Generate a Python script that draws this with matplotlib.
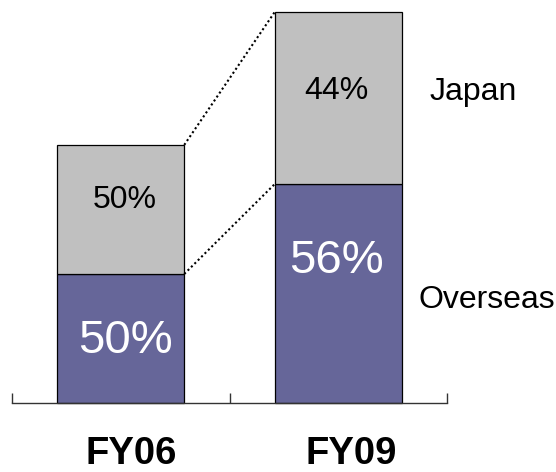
import matplotlib
matplotlib.use("Agg")
import matplotlib.pyplot as plt
import numpy as np

plt.rcParams['font.family'] = ['Liberation Sans', 'DejaVu Sans']

# sales split by region (total as index, FY06 = 100)
years = ["FY06", "FY09"]
totals = np.array([100.0, 151.5])
overseas_share = np.array([0.50, 0.56])
japan_share = np.array([0.50, 0.44])
overseas_labels = ["50%", "56%"]
japan_labels = ["50%", "44%"]

overseas = totals * overseas_share
japan = totals * japan_share

c_overseas = "#666699"
c_japan = "#C0C0C0"

fig = plt.figure(figsize=(5.56, 4.72), dpi=100)
ax = fig.add_axes([12 / 556, 69 / 472, 435 / 556, 391 / 472])

x = np.arange(len(years))
w = 0.584
ax.bar(x, overseas, w, color=c_overseas, edgecolor="black", linewidth=0.9, clip_on=False)
ax.bar(x, japan, w, bottom=overseas, color=c_japan, edgecolor="black", linewidth=0.9, clip_on=False)

# dotted connectors between the bars
ax.plot([x[0] + w / 2, x[1] - w / 2], [totals[0], totals[1]],
        color="black", linestyle=(0, (1, 1.3)), linewidth=1.5, clip_on=False)
ax.plot([x[0] + w / 2, x[1] - w / 2], [overseas[0], overseas[1]],
        color="black", linestyle=(0, (1, 1.3)), linewidth=1.5, clip_on=False)

# segment labels
jap_pos = [0.57, 0.54]
ovs_pos = [0.48, 0.65]
lbl_dx = [0.02, -0.01]
for i in range(len(years)):
    ax.text(x[i] + lbl_dx[i], overseas[i] + japan[i] * jap_pos[i], japan_labels[i],
            ha="center", va="center", fontsize=23, color="black")
    ax.text(x[i] + lbl_dx[i], overseas[i] * ovs_pos[i], overseas_labels[i],
            ha="center", va="center", fontsize=34, color="white")

# category labels
for i, yr in enumerate(years):
    ax.text(x[i] + 0.05 + 0.01 * i, -0.156, yr, transform=ax.get_xaxis_transform(),
            ha="center", va="baseline", fontsize=27.5, fontweight="bold")

ax.text(1.422, 120.5, "Japan", ha="left", va="center", fontsize=23, clip_on=False)
ax.text(1.367, 39.9, "Overseas", ha="left", va="center", fontsize=23, clip_on=False)

ax.set_xlim(-0.5, 1.5)
ax.set_ylim(0, totals[1])
for s in ["top", "left", "right"]:
    ax.spines[s].set_visible(False)
ax.spines["bottom"].set_linewidth(1.0)
ax.spines["bottom"].set_color("#333333")
ax.set_yticks([])
ax.set_xticks([-0.5, 0.5, 1.5])
ax.set_xticklabels([])
ax.tick_params(axis="x", direction="in", length=7.5, width=1.0, color="#333333")

fig.savefig("out.png", dpi=100)
